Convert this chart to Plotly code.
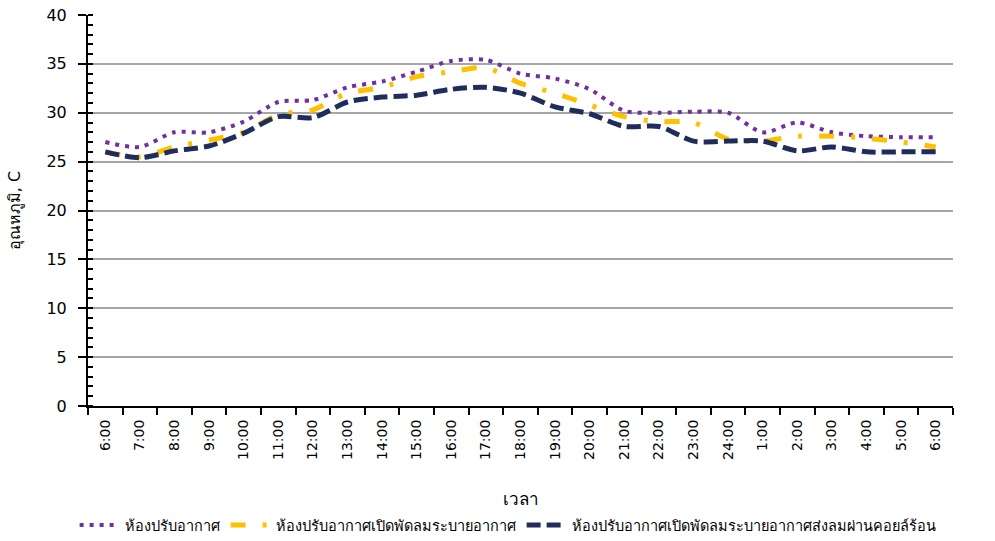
import plotly.graph_objects as go

times = ["6:00", "7:00", "8:00", "9:00", "10:00", "11:00", "12:00", "13:00", "14:00",
         "15:00", "16:00", "17:00", "18:00", "19:00", "20:00", "21:00", "22:00", "23:00",
         "24:00", "1:00", "2:00", "3:00", "4:00", "5:00", "6:00"]

room_ac = [27.0, 26.5, 28.0, 28.0, 29.1, 31.1, 31.3, 32.6, 33.2, 34.2, 35.3, 35.4, 34.0, 33.5,
           32.4, 30.2, 30.0, 30.1, 30.0, 28.0, 29.0, 28.0, 27.6, 27.5, 27.5]
room_fan = [26.0, 25.5, 26.5, 27.2, 28.0, 29.8, 30.3, 32.0, 32.6, 33.7, 34.2, 34.6, 33.0, 32.0,
            30.8, 29.6, 29.1, 29.0, 27.3, 27.1, 27.6, 27.6, 27.4, 27.0, 26.5]
room_coil = [26.0, 25.4, 26.1, 26.6, 27.9, 29.6, 29.5, 31.1, 31.6, 31.8, 32.4, 32.6, 32.0, 30.6,
             29.9, 28.6, 28.6, 27.1, 27.1, 27.1, 26.1, 26.5, 26.0, 26.0, 26.0]

names = ["ห้องปรับอากาศ",
         "ห้องปรับอากาศเปิดพัดลมระบายอากาศ",
         "ห้องปรับอากาศเปิดพัดลมระบายอากาศส่งลมผ่านคอยล์ร้อน"]

x_idx = list(range(len(times)))
FONT = "'DejaVu Sans', 'Noto Sans', sans-serif"

fig = go.Figure()
fig.add_trace(go.Scatter(x=x_idx, y=room_ac, name=names[0], mode="lines",
                         line=dict(color="#7030A0", width=4, dash="4px,6px",
                                   shape="spline", smoothing=0.8)))
fig.add_trace(go.Scatter(x=x_idx, y=room_fan, name=names[1], mode="lines",
                         line=dict(color="#FFC000", width=5, dash="15px,17px,4px,17px",
                                   shape="spline", smoothing=0.8)))
fig.add_trace(go.Scatter(x=x_idx, y=room_coil, name=names[2], mode="lines",
                         line=dict(color="#1F2D5C", width=5, dash="14px,6px",
                                   shape="spline", smoothing=0.8)))

fig.update_layout(
    width=995, height=541,
    margin=dict(l=88, r=42, t=15, b=135, autoexpand=False),
    paper_bgcolor="white", plot_bgcolor="white",
    font=dict(family=FONT, size=14, color="#000000"),
    showlegend=True,
    legend=dict(orientation="h", xref="container", yref="container",
                x=0.075, y=0.0, xanchor="left", yanchor="bottom",
                font=dict(size=14.5), itemwidth=40, tracegroupgap=0,
                bgcolor="rgba(0,0,0,0)"),
    xaxis=dict(
        automargin=False,
        range=[-0.5, len(times) - 0.5],
        tickmode="array", tickvals=x_idx, ticktext=times,
        tickangle=-90, ticks="", showgrid=False, zeroline=False,
        showline=True, linecolor="black", linewidth=2,
        minor=dict(tickmode="linear", tick0=0.5, dtick=1, ticks="outside",
                   ticklen=7, tickwidth=2, tickcolor="black", showgrid=False),
        title=dict(text="เวลา", font=dict(size=17), standoff=46),
        tickfont=dict(size=14),
        ticklabelstandoff=6,
    ),
    yaxis=dict(
        automargin=False,
        range=[0, 40], tickmode="linear", tick0=0, dtick=5,
        ticks="outside", ticklen=8, tickwidth=2, tickcolor="black",
        showgrid=True, gridcolor="#A6A6A6", gridwidth=1.5,
        zeroline=False, showline=True, linecolor="black", linewidth=2,
        minor=dict(tickmode="linear", tick0=0, dtick=1, ticks="inside",
                   ticklen=5, tickwidth=2, tickcolor="black", showgrid=False),
        title=dict(text="อุณหภูมิ, C", font=dict(size=16), standoff=22),
        tickfont=dict(size=16),
        ticklabelstandoff=8,
    ),
)

fig.write_html("out.html", config={"displayModeBar": False},
               post_script="document.body.style.margin='0';")
